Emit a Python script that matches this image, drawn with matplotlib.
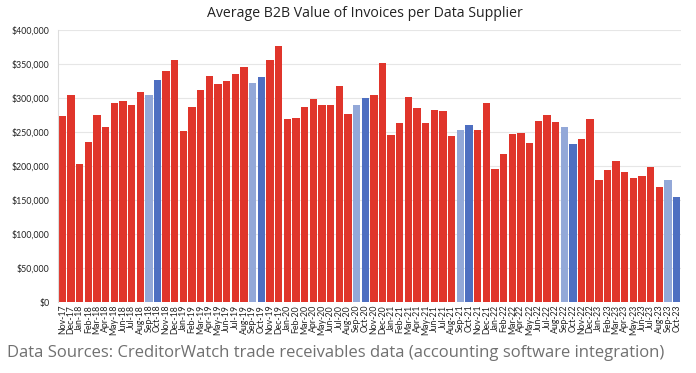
import matplotlib
matplotlib.use("Agg")
import matplotlib.pyplot as plt
from matplotlib.ticker import FuncFormatter, MultipleLocator

plt.rcParams["font.family"] = ["Lato", "DejaVu Sans"]

# meses de Nov-17 a Oct-23
meses = ["Nov-17", "Dec-17",
         "Jan-18", "Feb-18", "Mar-18", "Apr-18", "May-18", "Jun-18",
         "Jul-18", "Aug-18", "Sep-18", "Oct-18", "Nov-18", "Dec-18",
         "Jan-19", "Feb-19", "Mar-19", "Apr-19", "May-19", "Jun-19",
         "Jul-19", "Aug-19", "Sep-19", "Oct-19", "Nov-19", "Dec-19",
         "Jan-20", "Feb-20", "Mar-20", "Apr-20", "May-20", "Jun-20",
         "Jul-20", "Aug-20", "Sep-20", "Oct-20", "Nov-20", "Dec-20",
         "Jan-21", "Feb-21", "Mar-21", "Apr-21", "May-21", "Jun-21",
         "Jul-21", "Aug-21", "Sep-21", "Oct-21", "Nov-21", "Dec-21",
         "Jan-22", "Feb-22", "Mar-22", "Apr-22", "May-22", "Jun-22",
         "Jul-22", "Aug-22", "Sep-22", "Oct-22", "Nov-22", "Dec-22",
         "Jan-23", "Feb-23", "Mar-23", "Apr-23", "May-23", "Jun-23",
         "Jul-23", "Aug-23", "Sep-23", "Oct-23"]

valores = [273000, 305000,
           203000, 235000, 275000, 258000, 293000, 296000,
           289000, 309000, 304000, 326000, 340000, 356000,
           251000, 287000, 312000, 333000, 321000, 325000,
           335000, 346000, 322000, 331000, 356000, 376000,
           269000, 271000, 287000, 298000, 289000, 289000,
           318000, 277000, 289000, 300000, 305000, 352000,
           245000, 263000, 301000, 285000, 263000, 283000,
           281000, 244000, 253000, 260000, 253000, 293000,
           195000, 217000, 247000, 248000, 234000, 266000,
           275000, 265000, 257000, 233000, 239000, 269000,
           180000, 194000, 208000, 191000, 183000, 186000,
           198000, 169000, 179000, 154000]

VERMELHO = "#e0352b"
AZUL_CLARO = "#93a8d8"
AZUL = "#4e6fc1"


def cor(m):
    if m.startswith("Sep"):
        return AZUL_CLARO
    if m.startswith("Oct"):
        return AZUL
    return VERMELHO


fig = plt.figure(figsize=(6.96, 3.73), dpi=100)
ax = fig.add_axes([0.0833, 0.1903, 0.8952, 0.7293])

x = range(len(meses))
ax.bar(x, valores, width=0.85, color=[cor(m) for m in meses], zorder=2)

ax.set_xlim(-0.5, len(meses) - 0.5)
ax.set_ylim(0, 400000)
ax.yaxis.set_major_locator(MultipleLocator(50000))
ax.yaxis.set_major_formatter(FuncFormatter(lambda v, p: f"${v:,.0f}"))
ax.grid(axis="y", color="#e6e6e6", lw=0.8, zorder=0)

ax.set_xticks(list(x))
ax.set_xticklabels(meses, rotation=90, fontsize=6.3, color="#222222")
ax.tick_params(axis="y", labelsize=6.3, colors="#222222", length=0, pad=6)
ax.tick_params(axis="x", length=0, pad=2)

for s in ["top", "right", "bottom"]:
    ax.spines[s].set_visible(False)
ax.spines["left"].set_color("#dddddd")
ax.spines["left"].set_linewidth(0.8)

fig.text(0.524, 0.965, "Average B2B Value of Invoices per Data Supplier",
         ha="center", va="center", fontsize=10.2, color="#222222",
         family=["Open Sans", "DejaVu Sans"])
fig.text(0.01, 0.053,
         "Data Sources: CreditorWatch trade receivables data (accounting software integration)",
         ha="left", va="center", fontsize=12, color="#707070",
         family=["Open Sans", "DejaVu Sans"])

plt.savefig("out.png", dpi=100)
plt.close()
